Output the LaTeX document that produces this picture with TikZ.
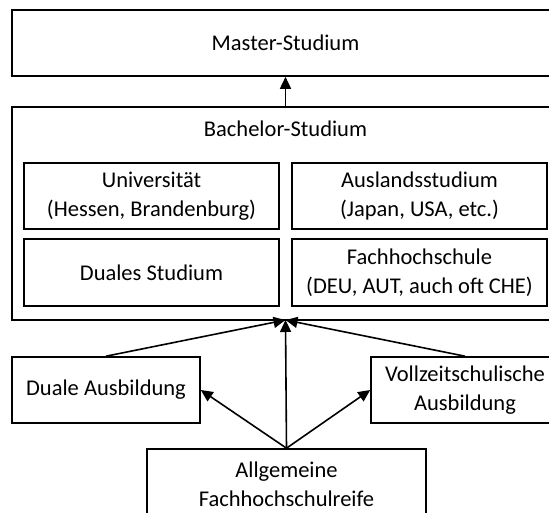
\documentclass[tikz,border=0pt]{standalone}
\usepackage{fontspec}
\setmainfont{Carlito}
\usetikzlibrary{arrows.meta}
\begin{document}
\begin{tikzpicture}[x=1pt,y=-1pt,
  box/.style={draw=black, line width=1.6pt, fill=white, inner sep=0pt, align=center, font=\fontsize{22.5}{29}\selectfont},
  lbl/.style={inner sep=0pt, align=center, font=\fontsize{22.5}{29}\selectfont},
  conn/.style={draw=black, line width=1.6pt, -{Triangle[length=12pt,width=11pt]}}]
\useasboundingbox (0,0) rectangle (549,513);
\clip (0,0) rectangle (549,513);
\fill[white] (0,0) rectangle (549,513);
% Master
\node[box, minimum width=547pt, minimum height=66pt] (master) at (285.5,43) {Master-Studium};
% Bachelor
\node[box, minimum width=547pt, minimum height=213pt] (bach) at (285.5,213.5) {};
\node[lbl] (bachtitle) at (285.5,129) {Bachelor-Studium};
\node[box, minimum width=255pt, minimum height=66pt] (uni) at (151.5,196) {Universität\\(Hessen, Brandenburg)};
\node[box, minimum width=255pt, minimum height=66pt] (ausl) at (419.5,196) {Auslandsstudium\\(Japan, USA, etc.)};
\node[box, minimum width=255pt, minimum height=67pt] (dual) at (151.5,272.5) {Duales Studium};
\node[box, minimum width=255pt, minimum height=67pt] (fh) at (419.5,272.5) {Fachhochschule\\(DEU, AUT, auch oft CHE)};
% lower
\node[box, minimum width=188pt, minimum height=66pt] (dausb) at (106,390) {Duale Ausbildung};
\node[box, minimum width=188pt, minimum height=66pt] (vausb) at (465,390) {Vollzeitschulische\\Ausbildung};
\node[box, minimum width=279pt, minimum height=70pt] (fhr) at (286.5,484) {Allgemeine\\Fachhochschulreife};
\coordinate (conv) at (285.5,320);
% connectors
\draw[conn] (master.south |- bach.north) -- (master.south);
\draw[conn] (dausb.north) -- (conv);
\draw[conn] (vausb.north) -- (conv);
\draw[conn] (fhr.north) -- (conv);
\draw[conn] (fhr.north) -- (dausb.east);
\draw[conn] (fhr.north) -- (vausb.west);
\end{tikzpicture}
\end{document}
